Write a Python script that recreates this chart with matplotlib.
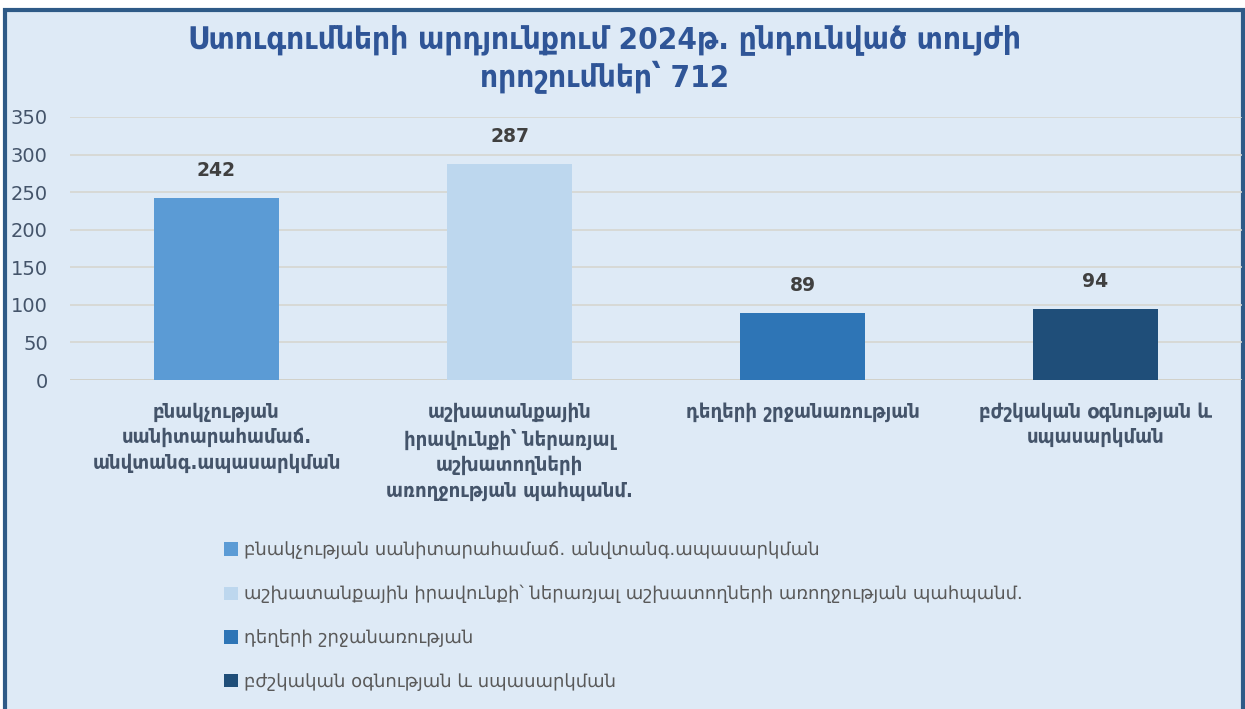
import matplotlib
matplotlib.use("Agg")
import matplotlib.pyplot as plt
from matplotlib.patches import Rectangle, Patch

title = "Ստուգումների արդյունքում 2024թ. ընդունված տույժի\nորոշումներ՝ 712"
categories = [
    "բնակչության սանիտարահամաճ. անվտանգ.ապասարկման",
    "աշխատանքային իրավունքի՝ ներառյալ աշխատողների առողջության պահպանմ.",
    "դեղերի շրջանառության",
    "բժշկական օգնության և սպասարկման",
]
tick_labels = [
    "բնակչության\nսանիտարահամաճ.\nանվտանգ.ապասարկման",
    "աշխատանքային\nիրավունքի՝ ներառյալ\nաշխատողների\nառողջության պահպանմ.",
    "դեղերի շրջանառության",
    "բժշկական օգնության և\nսպասարկման",
]
values = [242, 287, 89, 94]
colors = ["#5b9bd5", "#bdd7ee", "#2e75b6", "#1f4e79"]
yticks = [0, 50, 100, 150, 200, 250, 300, 350]

plt.rcParams['font.family'] = ['DejaVu Sans']
W, H = 1245, 709
fig = plt.figure(figsize=(W / 100, H / 100), dpi=100)
fig.patch.set_facecolor("white")

bg = "#deeaf6"
fig.patches.append(Rectangle((4.5 / W, -5 / H), (W - 7) / W, (H - 5) / H, transform=fig.transFigure,
                             facecolor=bg, edgecolor="#2e5a87", linewidth=3, zorder=-5))

ax = fig.add_axes([70 / W, 1 - 380 / H, (1242 - 70) / W, (380 - 117) / H])
ax.set_facecolor("none")
x = list(range(len(values)))
bars = ax.bar(x, values, width=0.425, color=colors, zorder=3)
ax.set_xlim(-0.5, 3.5)
ax.set_ylim(0, 350)
ax.set_yticks(yticks)
ax.yaxis.grid(True, color="#d6d6d0", linewidth=1.2, zorder=0)
ax.set_axisbelow(True)
for s in ax.spines.values():
    s.set_visible(False)
ax.tick_params(axis='y', length=0, pad=16, labelsize=14, labelcolor="#44546a")
ax.tick_params(axis='x', length=0, pad=16)
ax.set_xticks(x)
ax.set_xticklabels(tick_labels, fontsize=14.5, fontweight='bold', color="#44546a",
                   linespacing=1.4, fontstretch='condensed')
ax.axhline(0, color="#d0d0c8", linewidth=1.2, zorder=2)

for xi, v in zip(x, values):
    ax.annotate(str(v), (xi, v), xytext=(0, 13), textcoords='offset points',
                ha='center', va='bottom', fontsize=13.5,
                fontweight='bold', color="#404040")

fig.text(605 / W, 1 - 59 / H, title, ha='center', va='center', fontsize=22.5,
         fontweight='bold', color="#2f5597", linespacing=1.25, fontstretch='condensed')

handles = [Patch(facecolor=c, edgecolor='none') for c in colors]
leg = fig.legend(handles, categories, loc='upper left',
                 bbox_to_anchor=(208 / W, 1 - 525 / H), frameon=False,
                 fontsize=13, labelcolor="#595959", labelspacing=1.43,
                 handlelength=0.75, handleheight=0.75, handletextpad=0.35)

fig.savefig("out.png", dpi=100, facecolor=fig.get_facecolor())
